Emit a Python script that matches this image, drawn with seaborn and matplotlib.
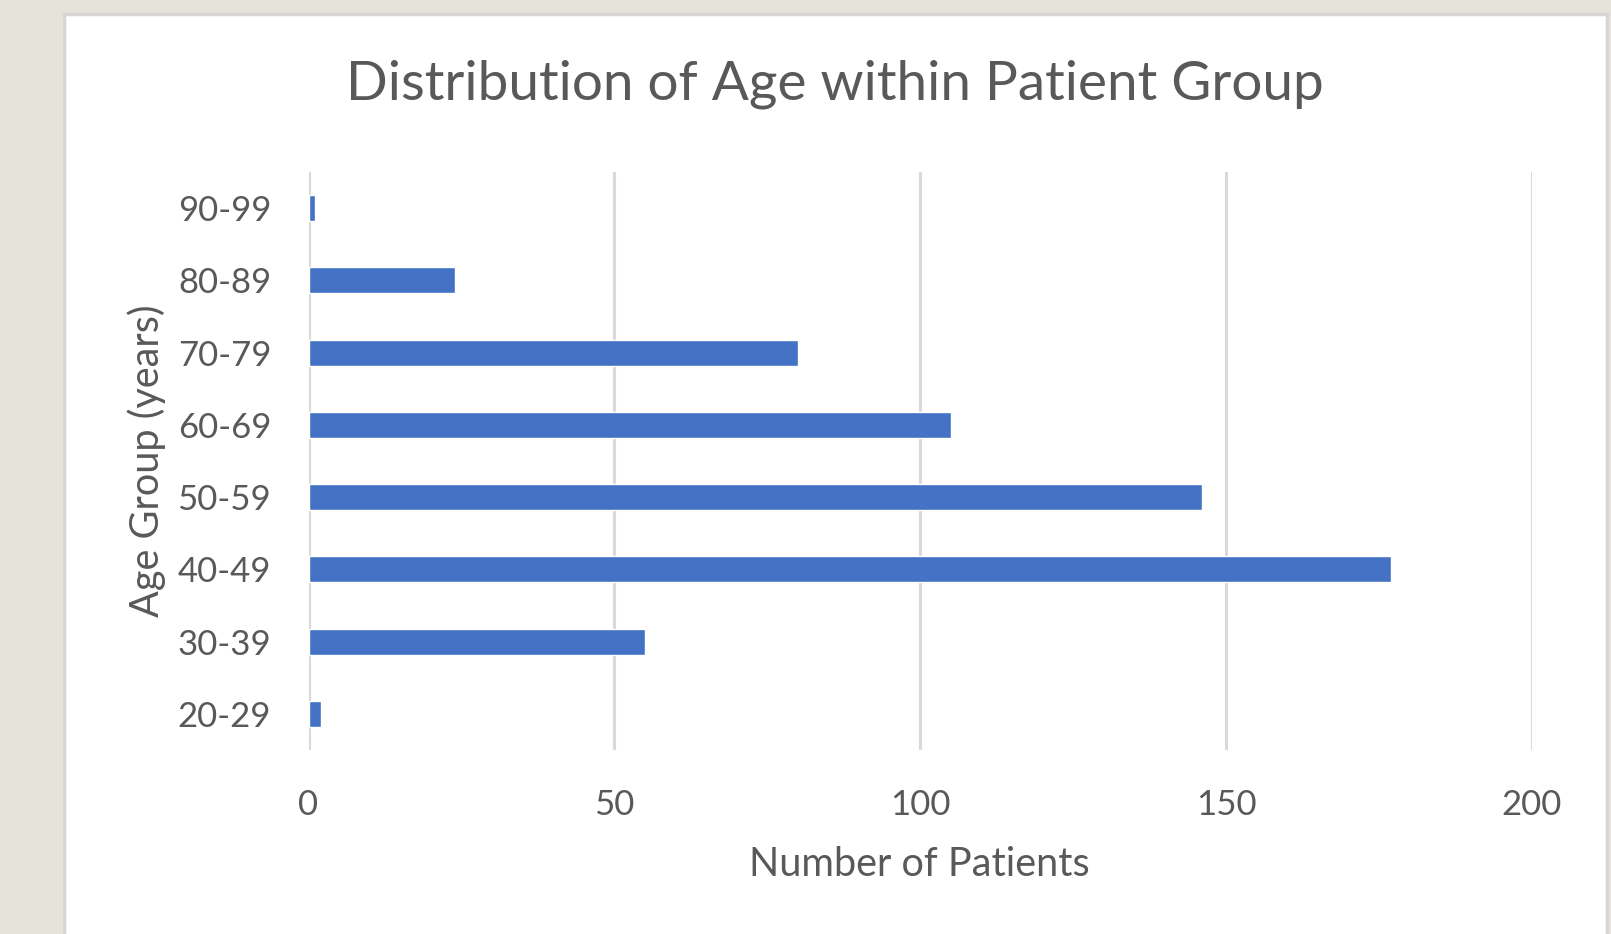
import matplotlib
matplotlib.use("Agg")
import matplotlib.pyplot as plt
import seaborn as sns
import pandas as pd
from matplotlib.patches import Rectangle

age_groups = ["20-29", "30-39", "40-49", "50-59", "60-69", "70-79", "80-89", "90-99"]
patients = [2, 55, 177, 146, 105, 80, 24, 1]
x_ticks = [0, 50, 100, 150, 200]

sns.set_theme(style="white")
plt.rcParams['font.family'] = ['Lato', 'DejaVu Sans']

TEXT = "#595959"
BAR = "#4472C4"
GRID = "#d9d9d9"

df = pd.DataFrame({"age": age_groups, "n": patients})

fig = plt.figure(figsize=(16.11, 9.34), dpi=100)
fig.patch.set_facecolor("#e6e4da")
card = Rectangle((64 / 1611, -0.01), (1607 - 64) / 1611, (934 - 14) / 934 + 0.01,
                 transform=fig.transFigure, facecolor="white",
                 edgecolor="#d6d6d6", linewidth=2.5, zorder=-10)
fig.patches.append(card)

ax = fig.add_axes([308.5 / 1611, 1 - 750 / 934, (1532 - 308.5) / 1611, (750 - 172) / 934])
ax.set_zorder(5)
ax.set_facecolor("white")
sns.barplot(data=df, x="n", y="age", order=age_groups[::-1], orient="h",
            color=BAR, width=0.36, saturation=1, ax=ax, zorder=3)

ax.set_xlim(0, 200)
ax.set_xticks(x_ticks)
ax.set_xticklabels([str(t) for t in x_ticks])
ax.set_ylim(7.5, -0.5)
ax.grid(axis="x", color=GRID, linewidth=2.2, zorder=0)
ax.set_axisbelow(True)
for s in ax.spines.values():
    s.set_visible(False)
ax.tick_params(axis="both", length=0, labelsize=25, colors=TEXT)
ax.tick_params(axis="y", pad=27)
ax.tick_params(axis="x", pad=28)

ax.set_xlabel("Number of Patients", fontsize=28.5, color=TEXT, va="center", ha="center")
ax.xaxis.set_label_coords(919.5 / 1611, 1 - 864 / 934, transform=fig.transFigure)
ax.set_ylabel("Age Group (years)", fontsize=28.5, color=TEXT, va="center", ha="center")
ax.yaxis.set_label_coords(147 / 1611, 1 - 461 / 934, transform=fig.transFigure)
fig.text(835 / 1611, 1 - 84 / 934, "Distribution of Age within Patient Group",
         ha="center", va="center", fontsize=39.5, color=TEXT)

fig.savefig("out.png", dpi=100, facecolor=fig.get_facecolor())
